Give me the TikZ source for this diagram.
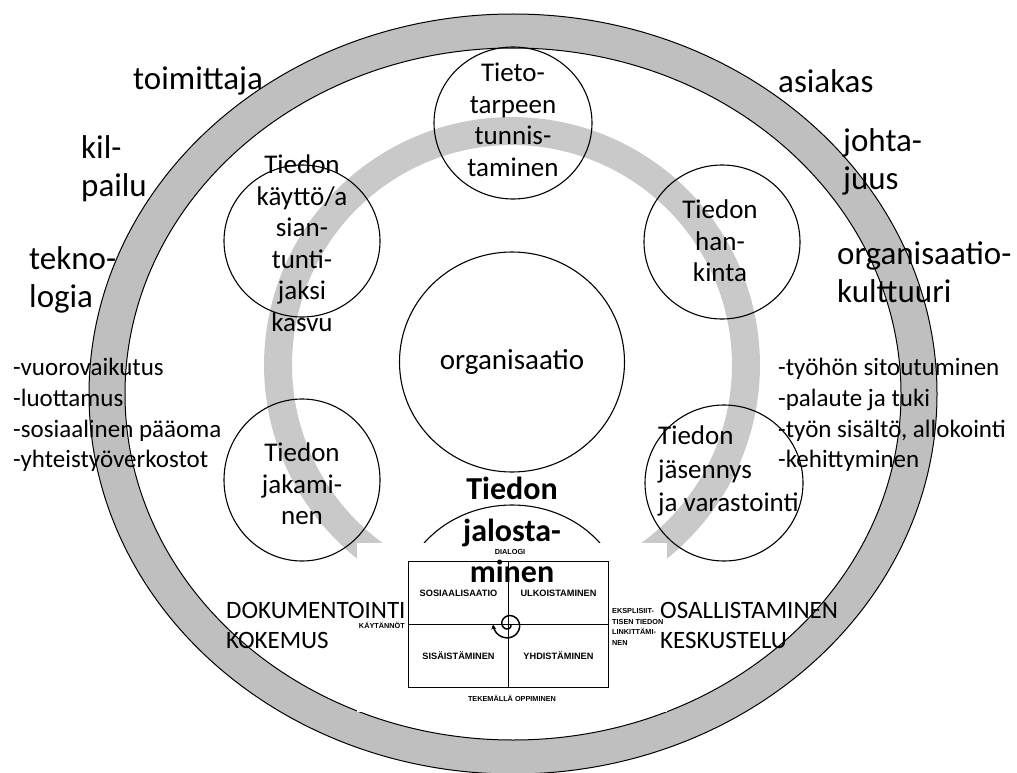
\documentclass[tikz,border=0pt]{standalone}
\usepackage{fontspec}
\setmainfont{Carlito}
\newfontfamily\secifont{Liberation Sans}
\usetikzlibrary{shapes.geometric,arrows.meta}
\definecolor{ringgray}{RGB}{191,191,191}
\definecolor{arcgray}{RGB}{201,201,201}

\begin{document}
\begin{tikzpicture}[x=1pt,y=-1pt,
    ring/.style={fill=ringgray,draw=black,line width=1pt,even odd rule},
    bubble/.style={draw=black,line width=1.1pt,ellipse,inner sep=0pt},
    bubbletext/.style={align=center,inner sep=0pt,font=\fontsize{27}{31.5}\selectfont},
    side/.style={align=left,anchor=west,inner sep=0pt,font=\fontsize{33}{38}\selectfont},
    list/.style={align=left,anchor=west,inner sep=0pt,font=\fontsize{25}{30.7}\selectfont},
    caps/.style={align=left,anchor=west,inner sep=0pt,font=\fontsize{25}{30}\selectfont},
    quad/.style={draw=black,line width=1.8pt,minimum width=100pt,minimum height=63pt,
                 inner sep=0pt,font=\secifont\bfseries\fontsize{9.2}{11}\selectfont},
    tiny/.style={inner sep=0pt,font=\secifont\bfseries\fontsize{7.3}{10.5}\selectfont},
    spiral/.style={line width=1.5pt,-{Stealth[length=5pt,width=5pt]}},
  ]
    \useasboundingbox (0,0) rectangle (1017,773);

    \path[ring] (513,394) ellipse [x radius=424, y radius=380]
                (513,394) ellipse [x radius=388, y radius=346];

    \fill[arcgray] plot[domain=120:420,samples=150] ({512+248*cos(\x)},{365+248*sin(\x)})
      -- plot[domain=420:120,samples=150] ({512+220*cos(\x)},{365+220*sin(\x)}) -- cycle;

    \foreach \n/\x/\y/\w/\h in {need/513/123/158/152, use/302/241/156/152,
        get/722/242/156/154, org/512/362/225/220, share/302/480/156/162,
        store/724/483/158/156, refine/512/605/224/200}
      \node[bubble,minimum width=\w pt,minimum height=\h pt] (\n) at (\x,\y) {};

    \fill[white] (357,543) rectangle (667,712);

    \node[quad] (soc)  at (458.5,593) {SOSIAALISAATIO};
    \node[quad] (ext)  at (558.5,593) {ULKOISTAMINEN};
    \node[quad] (intl) at (458.5,656) {SISÄISTÄMINEN};
    \node[quad] (comb) at (558.5,656) {YHDISTÄMINEN};
    \coordinate (hub) at (508.5,624.5);
    \draw[spiral,shift={(hub)}] plot[domain=0:540,samples=90]
      ({(2+0.025*\x)*cos(\x)},{(2+0.025*\x)*sin(\x)});

    \node[tiny] (dialog) at (510,552) {DIALOGI};
    \node[tiny] (doing)  at (512,698) {TEKEMÄLLÄ OPPIMINEN};
    \node[tiny,anchor=east] (prac) at (405,625) {KÄYTÄNNÖT};
    \node[tiny,anchor=west,align=left] (link) at (612,627)
      {EKSPLISIIT-\\TISEN TIEDON\\LINKITTÄMI-\\NEN};

    \node[bubbletext] (needtxt)  at (513,120) {Tieto-\\tarpeen\\tunnis-\\taminen};
    \node[bubbletext] (usetxt)   at (302,243) {Tiedon\\käyttö/a\\sian-\\tunti-\\jaksi\\kasvu};
    \node[bubbletext] (gettxt)   at (720,241) {Tiedon\\han-\\kinta};
    \node[bubbletext,font=\fontsize{29}{34}\selectfont] (orgtxt) at (512,362) {organisaatio};
    \node[bubbletext] (sharetxt) at (302,484) {Tiedon\\jakami-\\nen};
    \node[bubbletext,align=left,anchor=west,font=\fontsize{27}{33.5}\selectfont] (storetxt)
      at (658,471) {Tiedon\\jäsennys\\ja varastointi};
    \node[bubbletext,font=\bfseries\fontsize{32}{41.5}\selectfont] (refinetxt)
      at (512,530) {Tiedon\\jalosta-\\minen};

    \node[side] (supplier)    at (133,81)  {toimittaja};
    \node[side] (customer)    at (778,81)  {asiakas};
    \node[side] (competition) at (81,169)  {kil-\\pailu};
    \node[side] (leadership)  at (843,162) {johta-\\juus};
    \node[side] (technology)  at (29,280)  {tekno-\\logia};
    \node[side] (culture)     at (837,272) {organisaatio-\\kulttuuri};

    \node[list] (social) at (13,415)
      {-vuorovaikutus\\-luottamus\\-sosiaalinen pääoma\\-yhteistyöverkostot};
    \node[list] (work) at (778,415)
      {-työhön sitoutuminen\\-palaute ja tuki\\-työn sisältö, allokointi\\-kehittyminen};

    \node[caps] (docu) at (226,625) {DOKUMENTOINTI\\KOKEMUS};
    \node[caps] (part) at (660,625) {OSALLISTAMINEN\\KESKUSTELU};
\end{tikzpicture}
\end{document}
